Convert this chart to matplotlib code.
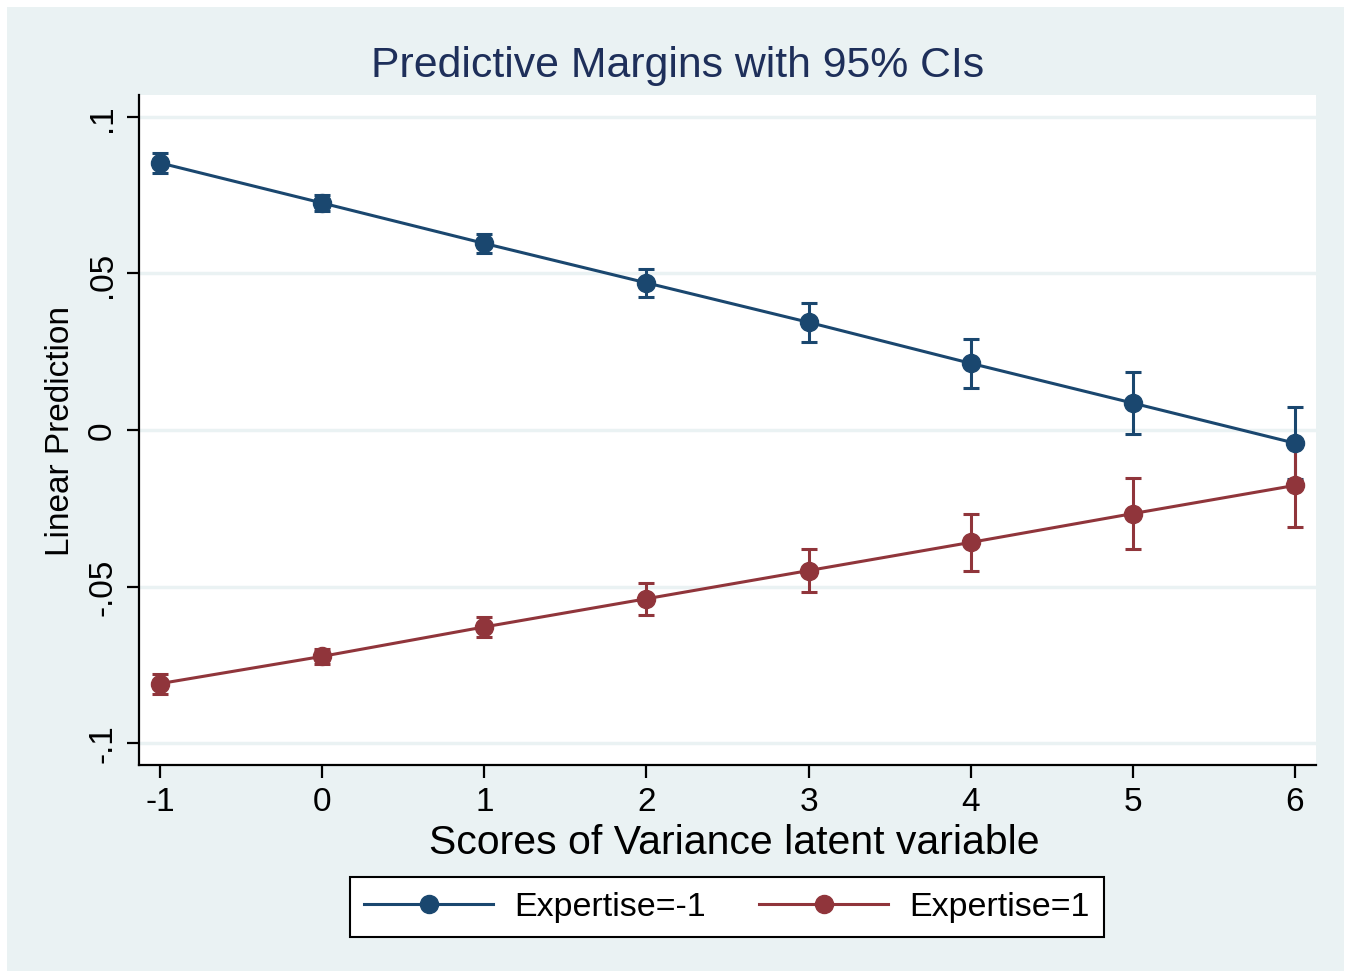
import numpy as np
import matplotlib
matplotlib.use('Agg')
import matplotlib.pyplot as plt
from matplotlib.patches import Rectangle
from matplotlib.lines import Line2D

plt.rcParams['font.family'] = ['Liberation Sans', 'DejaVu Sans']

scores = [-1, 0, 1, 2, 3, 4, 5, 6]
margin_lo = [0.0853, 0.0725, 0.0596, 0.0470, 0.0344, 0.0213, 0.0086, -0.0042]
ci_lo = [0.0032, 0.0026, 0.0031, 0.0044, 0.0062, 0.0079, 0.0099, 0.0116]
margin_hi = [-0.0810, -0.0723, -0.0629, -0.0539, -0.0449, -0.0359, -0.0267, -0.0177]
ci_hi = [0.0032, 0.0025, 0.0033, 0.0051, 0.0070, 0.0090, 0.0113, 0.0134]
labels = ['Expertise=-1', 'Expertise=1']
yticks = [-0.1, -0.05, 0, 0.05, 0.1]
yticklabels = ['-.1', '-.05', '0', '.05', '.1']

navy = '#1a476f'
maroon = '#90353b'
bg = '#eaf2f3'

fig = plt.figure(figsize=(13.51, 9.79), dpi=100)
fig.patch.set_facecolor('white')
fig.patches.append(Rectangle((7/1351, 7/979), 1337/1351, 964/979,
                             transform=fig.transFigure, facecolor=bg,
                             edgecolor='none', zorder=-10))

ax = fig.add_axes([139/1351, 1-766/979, 1177/1351, 670/979])
ax.set_facecolor('white')

handles = []
for ys, es, col, lab in [(margin_lo, ci_lo, navy, labels[0]),
                         (margin_hi, ci_hi, maroon, labels[1])]:
    ax.errorbar(scores, ys, yerr=es, color=col, lw=2.2, marker='o', ms=13,
                capsize=6, capthick=2.2, elinewidth=2.2)
    handles.append(Line2D([], [], color=col, lw=2.2, marker='o', ms=13, label=lab))

ax.set_xlim(-1.13, 6.13)
ax.set_ylim(-0.107, 0.107)
ax.set_xticks(scores)
ax.set_xticklabels([str(s) for s in scores])
ax.set_yticks(yticks)
ax.set_yticklabels(yticklabels, rotation=90, va='center')
ax.grid(axis='y', color=bg, lw=2.5)
ax.set_axisbelow(True)
for s in ['top', 'right']:
    ax.spines[s].set_visible(False)
for s in ['left', 'bottom']:
    ax.spines[s].set_linewidth(1.6)
ax.tick_params(length=9, width=1.6, labelsize=24, pad=6)

ax.set_ylabel('Linear Prediction', fontsize=24, labelpad=8)
fig.text(734/1351, 1-843/979, 'Scores of Variance latent variable',
         fontsize=29.5, ha='center', va='center')
fig.text(678/1351, 1-66/979, 'Predictive Margins with 95% CIs',
         fontsize=30.8, color='#1e2f5a', ha='center', va='center')

leg = fig.legend(handles=handles, loc='center', bbox_to_anchor=(727/1351, 1-908/979),
                 ncol=2, fontsize=24.5, frameon=True, fancybox=False,
                 edgecolor='black', handlelength=3.8, handletextpad=0.63,
                 columnspacing=1.55, borderpad=0.42)
leg.get_frame().set_linewidth(1.5)
leg.get_frame().set_facecolor('white')
leg.get_frame().set_alpha(1)

fig.savefig('out.png', dpi=100)
